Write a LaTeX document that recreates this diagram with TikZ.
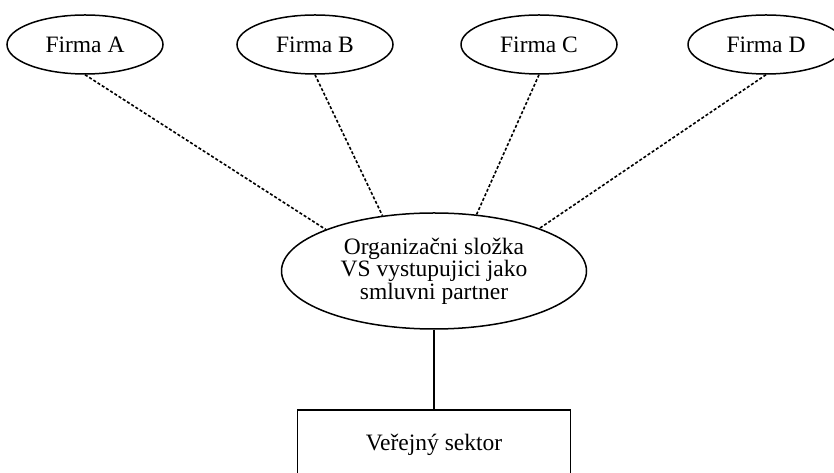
\documentclass[tikz,border=0pt]{standalone}
\usepackage{fontspec}
\setmainfont{Liberation Serif}
\usetikzlibrary{shapes.geometric}
\begin{document}
\begin{tikzpicture}[x=1pt,y=1pt,
  firm/.style={draw, ellipse, line width=1.5pt, minimum width=156pt, minimum height=59pt, inner sep=0pt, font=\fontsize{23.5}{27}\selectfont},
  org/.style={draw, ellipse, line width=1.5pt, minimum width=305pt, minimum height=116pt, inner sep=0pt, align=center, font=\fontsize{23.5}{20.5}\selectfont},
  sector/.style={draw, rectangle, line width=1.5pt, minimum width=273pt, minimum height=70pt, inner sep=0pt, font=\fontsize{23.5}{27}\selectfont},
  dashlink/.style={line width=1.6pt, dash pattern=on 3pt off 2pt},
  solidlink/.style={line width=1.6pt}]
\useasboundingbox (0,0) rectangle (834,473);
\clip (0,0) rectangle (834,473);
\node[firm] (A) at (85,428.5) {Firma A};
\node[firm] (B) at (315,428.5) {Firma B};
\node[firm] (C) at (539,428.5) {Firma C};
\node[firm] (D) at (766,428.5) {Firma D};
\node[org] (O) at (434,202) {Organizačni složka\\VS vystupujici jako\\smluvni partner};
\node[sector] (R) at (434,28) {Veřejný sektor};
\draw[dashlink] (A.south) -- (O.159);
\draw[dashlink] (B.south) -- (O.133);
\draw[dashlink] (C.south) -- (O.53);
\draw[dashlink] (D.south) -- (O.22);
\draw[solidlink] (O.south) -- (R.north);
\end{tikzpicture}
\end{document}
